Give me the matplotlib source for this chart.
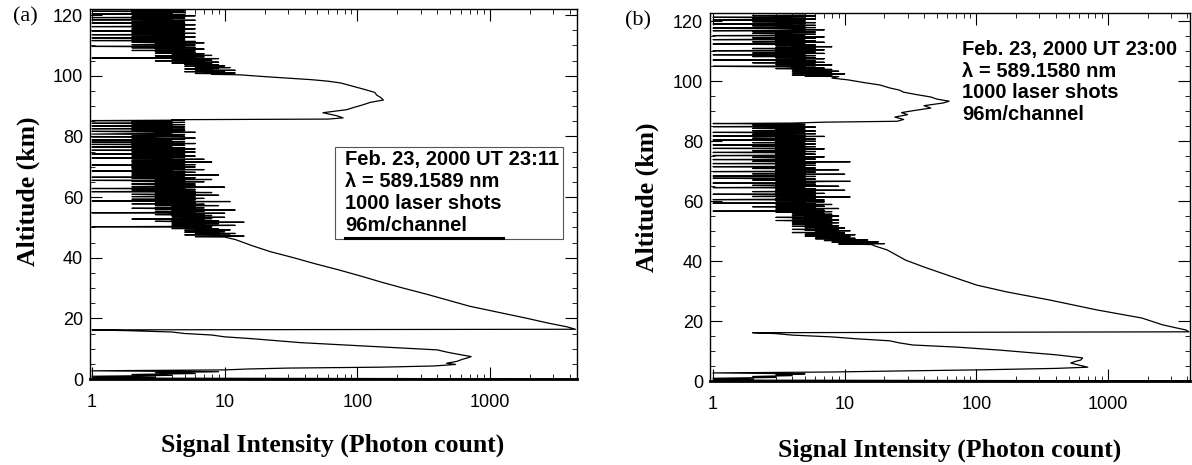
import numpy as np
import matplotlib
matplotlib.use("Agg")
from matplotlib import pyplot as plt
from matplotlib.ticker import LogLocator, MultipleLocator, FixedLocator, FixedFormatter, NullFormatter
from matplotlib.patches import Rectangle

# ---------------- panel (a): Feb. 23, 2000 UT 23:11 ----------------
# near field + lower layer (altitude km, photon count)
a_low_alt = [0.05, 0.3, 0.6, 0.9, 1.2, 1.5, 1.8, 2.1, 2.4, 2.7, 3.0, 3.3, 3.6, 3.9,
             4.3, 4.8, 5.2, 5.8, 6.5, 7.0, 7.4, 8.0, 8.8, 9.6, 10.2, 10.6, 11.2,
             12.0, 12.6, 13.3, 13.9, 14.5, 15.0, 15.5, 15.9, 16.2]
a_low_cnt = [4500, 1, 3, 1, 4, 2, 6, 3, 9, 1, 10, 15, 30, 150,
             380, 550, 470, 560, 620, 680, 720, 600, 480, 400, 220, 150, 83,
             37, 25, 16, 10, 8, 5, 4, 2, 1]
# Rayleigh part
a_ray_alt = [16.4, 17.2, 18.5, 20.0, 22.0, 24.0, 26.0, 28.0, 30.0, 32.0, 34.0,
             36.0, 38.0, 40.0, 42.0, 44.0, 46.0]
a_ray_cnt = [4400, 3800, 2700, 1900, 1150, 700, 480, 330, 220, 150, 105,
             72, 48, 33, 22, 16, 12]
# background noise 46.8 - 85.5 km (one count per ~0.15 km)
a_mid_span = (46.8, 85.5)
a_mid_cnt = [10, 6, 14, 8, 11, 5, 9, 7, 12, 6, 9, 5, 10, 7, 8, 5, 11, 6, 9, 4, 8, 6,
             7, 1, 8, 5, 12, 4, 7, 5, 9, 4, 6, 14, 5, 3, 9, 4, 7, 5, 2, 8, 4, 6, 10, 5, 7, 4, 8,
             5, 3, 7, 4, 10, 1, 6, 3, 7, 4, 5, 12, 3, 6, 4, 2, 7, 3, 6, 5, 4, 9, 3, 5, 7, 2, 6,
             4, 6, 3, 11, 1, 5, 3, 6, 2, 5, 7, 3, 4, 6, 2, 5, 3, 9, 4, 2, 6, 5, 3, 8, 4, 1, 6,
             3, 5, 2, 6, 4, 1, 5, 3, 10, 2, 4, 6, 3, 5, 2, 6, 2, 5, 4, 3, 7, 2, 5, 1, 4, 8, 3,
             5, 2, 6, 1, 4, 3, 5, 2, 9, 3, 2, 5, 4, 2, 6, 3, 5, 1, 4, 2, 7, 3, 5, 2, 4, 2, 6,
             2, 5, 3, 1, 6, 2, 4, 5, 2, 3, 8, 2, 4, 2, 5, 3, 7, 2, 4, 1, 5, 3, 2, 6, 4, 2, 5,
             3, 1, 5, 2, 4, 6, 2, 3, 5, 1, 4, 2, 6, 3, 2, 5, 1, 4, 3, 2, 5, 4, 1, 3, 6, 2, 4,
             1, 5, 2, 4, 3, 1, 5, 2, 4, 6, 2, 3, 1, 5, 2, 4, 3, 5, 1, 2, 4, 3, 6, 2, 1, 4, 5,
             2, 3, 5, 1, 4, 2, 3, 5, 2, 1, 4, 3, 5, 2, 4, 1, 3, 5, 2, 4, 3, 1, 5, 4]
# sodium layer
a_na_alt = [85.7, 86.1, 86.8, 87.8, 88.8, 89.6, 90.4, 91.2, 92.0, 92.8, 93.6,
            94.5, 95.4, 96.4, 97.0, 97.6, 98.2, 98.7, 99.2, 99.7]
a_na_cnt = [60, 78, 70, 55, 83, 95, 110, 125, 157, 150, 140,
            135, 115, 95, 85, 75, 60, 45, 30, 20]
# background noise 100.3 - 122 km
a_top_span = (100.3, 122.0)
a_top_cnt = [13, 8, 11, 6, 12, 7, 9, 5, 10, 7, 12, 6, 8, 5, 9, 7, 11, 6, 8, 5, 10, 6, 9, 5, 7,
             8, 4, 6, 9, 5, 7, 3, 8, 5, 6, 4, 9, 1, 6, 4, 7, 5, 3, 8, 4, 6, 5, 7, 3, 6, 4, 5,
             3, 6, 2, 5, 4, 7, 3, 5, 2, 6, 4, 1, 5, 3, 6, 2, 4, 5, 3, 7, 2, 4, 6, 3, 1, 5, 4,
             2, 5, 3, 1, 4, 6, 2, 5, 3, 4, 1, 5, 2, 6, 3, 2, 4, 5, 1, 3, 5, 2, 4, 6, 2, 3, 5,
             4, 1, 5, 2, 3, 6, 2, 4, 5, 1, 3, 5, 2, 4, 3, 6, 1, 4, 2, 5, 3, 1, 5, 2, 4, 6, 3,
             2, 5, 1, 4, 3, 2, 5, 3, 1, 4, 2, 5, 3, 4]

# ---------------- panel (b): Feb. 23, 2000 UT 23:00 ----------------
b_low_alt = [0.05, 0.3, 0.6, 0.9, 1.2, 1.5, 1.8, 2.1, 2.4, 2.7, 3.0, 3.3, 3.7,
             4.2, 4.6, 5.3, 6.0, 6.5, 7.0, 7.7, 8.7, 9.5, 10.3, 11.3, 12.0,
             12.7, 13.4, 14.1, 14.7, 15.3, 15.8, 16.1]
b_low_cnt = [4200, 1, 2, 1, 3, 2, 4, 3, 5, 1, 8, 22, 100,
             400, 700, 600, 520, 560, 620, 640, 410, 250, 150, 71, 33,
             26, 22, 12, 8, 4, 3, 2]
b_ray_alt = [16.4, 17.0, 18.7, 21.0, 23.7, 27.0, 29.7, 32.0, 34.7, 38.0, 40.3,
             43.7, 45.0]
b_ray_cnt = [4100, 3900, 2600, 1800, 820, 360, 170, 100, 66, 40, 29, 21, 17]
b_mid_span = (45.5, 86.0)
b_mid_cnt = [16, 9, 20, 11, 14, 8, 18, 9, 13, 7, 15, 8, 11, 6, 12, 7, 10,
             6, 11, 5, 9, 7, 12, 5, 8, 6, 10, 4, 9, 6, 7, 11, 5, 8, 4, 9, 6, 10, 5, 7, 8, 4, 9, 6,
             5, 8, 4, 7, 6, 9, 4, 6, 8, 5, 3, 9, 5, 7, 4, 6, 8, 3, 7, 5, 9, 4, 6, 5, 8, 4, 7,
             4, 6, 3, 8, 1, 5, 7, 3, 6, 4, 9, 3, 5, 6, 2, 7, 4, 5, 3, 8, 4, 6, 1, 5, 3, 7, 4,
             5, 3, 7, 1, 4, 6, 3, 5, 4, 11, 2, 5, 3, 6, 4, 1, 5, 7, 3, 4, 6, 2, 5, 3, 10, 4, 3,
             6, 3, 5, 1, 4, 3, 9, 5, 2, 4, 6, 3, 5, 1, 6, 3, 4, 11, 3, 5, 2, 4, 6, 3, 1, 5, 4,
             3, 6, 1, 4, 5, 3, 10, 2, 5, 4, 3, 6, 1, 5, 3, 4, 9, 3, 5, 2, 6, 4, 3, 1, 5, 3, 6,
             4, 3, 5, 1, 6, 3, 4, 11, 2, 5, 3, 4, 1, 6, 3, 5, 4, 2, 7, 3, 5, 1, 4, 3, 6, 5, 3,
             5, 1, 3, 6, 4, 2, 5, 3, 4, 7, 1, 5, 3, 4, 6, 2, 5, 3, 1, 4, 6, 3, 5, 2, 4, 3, 6,
             3, 5, 1, 4, 6, 3, 2, 5, 4, 3, 7, 1, 5, 3, 4, 2, 6, 3, 5, 1, 4, 3, 6, 2, 5, 3, 4,
             5, 2, 4, 3, 6, 1, 5, 3, 4, 2, 5, 3, 1, 4]
b_na_alt = [86.3, 86.6, 87.2, 88.0, 88.8, 89.5, 90.3, 91.0, 91.8, 92.7, 93.3,
            94.0, 94.7, 95.5, 96.3, 97.0, 97.7, 98.7, 99.5, 100.4, 101.0]
b_na_cnt = [7, 25, 28, 24, 30, 27, 35, 45, 40, 56, 62,
            50, 45, 35, 28, 26, 22, 18.5, 14, 10.6, 8]
b_top_span = (101.5, 122.0)
b_top_cnt = [9, 5, 8, 4, 7, 5, 10, 4, 8, 6, 7, 4, 9, 5, 6, 4, 8,
             5, 3, 7, 4, 6, 3, 1, 5, 4, 8, 3, 6, 4, 5, 2, 7, 3, 5, 6, 4, 1, 5, 3, 7, 4, 6, 3,
             5, 2, 4, 6, 3, 1, 5, 3, 7, 2, 4, 6, 3, 5, 1, 4, 7, 3, 5, 2, 6, 4, 3, 8, 4, 5, 3,
             6, 3, 1, 4, 5, 3, 7, 2, 4, 6, 3, 5, 1, 4, 3, 6, 2, 5, 7, 3, 4, 1, 5, 3, 6, 4, 2,
             4, 3, 6, 2, 5, 1, 3, 7, 4, 5, 3, 1, 6, 3, 4, 5, 2, 6, 3, 4, 1, 5, 3, 6, 4, 2, 5,
             3, 5, 1, 4, 6, 2, 5, 3, 1, 4, 3, 6, 2, 5]

x_ticks = [1, 10, 100, 1000]
x_ticklabels = ["1", "10", "100", "1000"]
y_ticks = [0, 20, 40, 60, 80, 100, 120]

a_text = ["Feb. 23, 2000 UT 23:11", "\u03bb = 589.1589 nm", "1000 laser shots", "96m/channel"]
b_text = ["Feb. 23, 2000 UT 23:00", "\u03bb = 589.1580 nm", "1000 laser shots", "96m/channel"]


def build_profile(low_alt, low_cnt, ray_alt, ray_cnt, mid_span, mid_cnt,
                  na_alt, na_cnt, top_span, top_cnt):
    mid_alt = np.linspace(mid_span[0], mid_span[1], len(mid_cnt))
    top_alt = np.linspace(top_span[0], top_span[1], len(top_cnt))
    alt = np.concatenate([low_alt, ray_alt, mid_alt, na_alt, top_alt])
    cnt = np.concatenate([low_cnt, ray_cnt, mid_cnt, na_cnt, top_cnt])
    return alt, cnt


W, H = 1192, 465
fig = plt.figure(figsize=(W / 100, H / 100), dpi=100)

label_font = dict(family="Liberation Serif", weight="bold", size=18.5)
note_font = dict(family="Liberation Sans", weight="bold", size=14.5)


def px_axes(x0, y0, x1, y1):
    # axes from pixel box (left, top, right, bottom)
    return fig.add_axes([x0 / W, 1 - y1 / H, (x1 - x0) / W, (y1 - y0) / H])


def style_axes(ax, xlim, ylim):
    ax.set_xscale("log")
    ax.set_xlim(*xlim)
    ax.set_ylim(*ylim)
    ax.xaxis.set_major_locator(FixedLocator(x_ticks))
    ax.xaxis.set_major_formatter(FixedFormatter(x_ticklabels))
    ax.xaxis.set_minor_locator(LogLocator(base=10, subs=np.arange(2, 10)))
    ax.xaxis.set_minor_formatter(NullFormatter())
    ax.yaxis.set_major_locator(FixedLocator(y_ticks))
    ax.yaxis.set_minor_locator(MultipleLocator(5))
    ax.tick_params(which="major", direction="in", length=8.5, width=0.8,
                   top=True, right=True, labelsize=13)
    ax.tick_params(which="minor", direction="in", length=3.5, width=0.6,
                   top=True, right=True)
    ax.tick_params(axis="x", pad=11)
    ax.tick_params(axis="y", pad=5)
    for lab in ax.get_xticklabels() + ax.get_yticklabels():
        lab.set_fontfamily("Liberation Sans")
    for side in ["left", "top", "right"]:
        ax.spines[side].set_linewidth(1.0)
    ax.spines["bottom"].set_linewidth(2.0)


# ---- panel (a)
ax1 = px_axes(90, 9, 577, 379)
alt, cnt = build_profile(a_low_alt, a_low_cnt, a_ray_alt, a_ray_cnt, a_mid_span, a_mid_cnt,
                         a_na_alt, a_na_cnt, a_top_span, a_top_cnt)
ax1.plot(cnt, alt, color="black", lw=0.9)
style_axes(ax1, (0.966, 4520), (0, 122))
for i, s in enumerate(a_text):
    fig.text(345 / W, 1 - (159 + 22.3 * i) / H, s, ha="left", va="center", **note_font)
fig.patches.append(Rectangle((335 / W, 1 - 239 / H), (563 - 335) / W, (239 - 147) / H,
                             transform=fig.transFigure, fill=False, edgecolor="#555555", lw=0.8))
fig.lines.append(plt.Line2D([345 / W, 503 / W], [1 - 238 / H, 1 - 238 / H],
                            transform=fig.transFigure, color="black", lw=2.2))
fig.text(25 / W, 1 - 17 / H, "(a)", ha="center", va="center", family="Liberation Serif", size=16)
fig.text(28 / W, 1 - 191 / H, "Altitude (km)", rotation=90, ha="center", va="center", **label_font)
fig.text(333 / W, 1 - 445 / H, "Signal Intensity (Photon count)", ha="center", va="center", **label_font)

# ---- panel (b)
ax2 = px_axes(710, 13, 1190, 381)
alt, cnt = build_profile(b_low_alt, b_low_cnt, b_ray_alt, b_ray_cnt, b_mid_span, b_mid_cnt,
                         b_na_alt, b_na_cnt, b_top_span, b_top_cnt)
ax2.plot(cnt, alt, color="black", lw=0.9)
style_axes(ax2, (0.949, 4180), (0, 122.7))
for i, s in enumerate(b_text):
    fig.text(962 / W, 1 - (50 + 21.5 * i) / H, s, ha="left", va="center", **note_font)
fig.text(638 / W, 1 - 21 / H, "(b)", ha="center", va="center", family="Liberation Serif", size=16)
fig.text(647 / W, 1 - 197 / H, "Altitude (km)", rotation=90, ha="center", va="center", **label_font)
fig.text(950 / W, 1 - 450 / H, "Signal Intensity (Photon count)", ha="center", va="center", **label_font)

fig.savefig("out.png", dpi=100)
